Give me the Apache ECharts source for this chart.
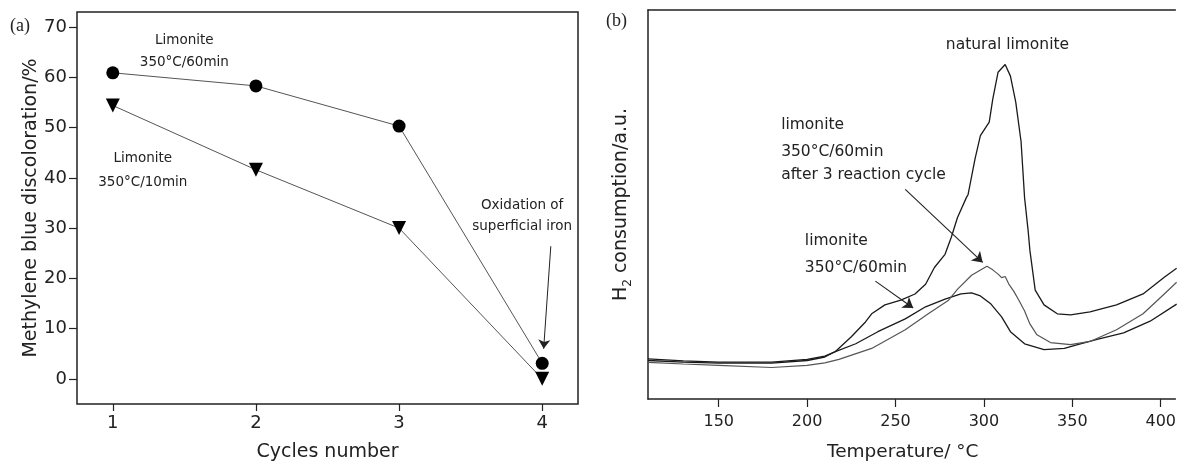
<!DOCTYPE html>
<html>
<head>
<meta charset="utf-8">
<script src="https://cdn.jsdelivr.net/npm/echarts@6.0.0/dist/echarts.min.js"></script>
<style>
  html, body { margin: 0; padding: 0; background: #fff; }
  #chart { width: 1179px; height: 467px; }
</style>
</head>
<body>
<div id="chart"></div>
<script>
// (a) discoloration vs cycles
var cycles = [1, 2, 3, 4];
var limonite60 = [60.9, 58.3, 50.3, 3.1];
var limonite10 = [54.4, 41.6, 30.0, 0.0];
var cycleTicks = [1, 2, 3, 4];
var discoTicks = [0, 10, 20, 30, 40, 50, 60, 70];

// (b) TPR curves (temperature in C, H2 consumption in a.u.)
var tempTicks = [150, 200, 250, 300, 350, 400];

var tNatural = [110, 130, 150, 180, 200, 210, 216, 225, 233, 236.5, 244, 253, 261, 267, 272, 278, 281.5, 285, 290, 291, 295, 298, 303, 305, 308, 312, 315, 318, 321, 323, 325, 326, 329, 334, 341.5, 349, 360, 375, 390, 402, 409];
var hNatural = [10.3, 9.8, 9.5, 9.5, 10.2, 11.0, 12.2, 16.0, 19.8, 21.9, 24.2, 25.4, 27.0, 29.5, 33.8, 37.2, 41.5, 46.6, 51.7, 52.5, 61.8, 67.7, 71.2, 77.1, 84.0, 86.0, 83.0, 76.3, 66.2, 51.7, 43.3, 38.2, 28.0, 24.2, 21.9, 21.6, 22.4, 24.2, 27.0, 31.3, 33.6];

var tCalc60 = [110, 130, 150, 180, 200, 210, 216, 227.5, 240, 255.5, 267, 278, 287, 293, 298, 304, 310, 315, 323, 334, 345.5, 353, 364, 379, 394, 409];
var hCalc60 = [9.9, 9.5, 9.2, 9.2, 9.9, 10.8, 12.2, 14.2, 17.3, 20.6, 23.7, 25.7, 27.0, 27.3, 26.5, 24.4, 21.1, 17.3, 14.2, 12.7, 13.0, 14.0, 15.3, 17.0, 20.0, 24.4];

var tCycled = [110, 130, 150, 180, 200, 210, 218, 236.5, 255.5, 268.5, 280, 285, 293, 301.7, 305, 308, 310, 312, 314, 315, 317, 318, 320, 321, 323, 326, 330, 337.6, 349, 360, 375, 390, 402, 409];
var hCycled = [9.4, 9.0, 8.65, 8.1, 8.65, 9.3, 10.2, 13.0, 17.8, 21.9, 25.4, 28.2, 31.8, 34.1, 33.2, 32.1, 31.2, 31.5, 29.6, 29.9, 27.6, 27.9, 25.2, 25.5, 22.6, 19.3, 16.5, 14.5, 14.0, 14.8, 17.8, 21.9, 27.0, 30.0];

// annotation texts: [gridIndex, x, y, text, align, fontSize]
var notes = [
  [0, 1.50, 67.4, 'Limonite', 'center', 13.5],
  [0, 1.50, 63.0, '350°C/60min', 'center', 13.5],
  [0, 1.21, 43.9, 'Limonite', 'center', 13.5],
  [0, 1.21, 39.1, '350°C/10min', 'center', 13.5],
  [0, 3.86, 34.4, 'Oxidation of', 'center', 13.5],
  [0, 3.86, 30.4, 'superficial iron', 'center', 13.5],
  [1, 313.3, 91.1, 'natural limonite', 'center', 15.5],
  [1, 185.3, 70.5, 'limonite', 'left', 15.5],
  [1, 185.3, 63.6, '350°C/60min', 'left', 15.5],
  [1, 185.3, 57.5, 'after 3 reaction cycle', 'left', 15.5],
  [1, 198.7, 40.7, 'limonite', 'left', 15.5],
  [1, 198.7, 33.6, '350°C/60min', 'left', 15.5]
];
// arrows: [from, to]
var arrowsA = [[[4.06, 26.4], [4.01, 6.0]]];
var arrowsB = [[[255.5, 53.9], [299.3, 35.1]], [[238.6, 30.3], [260.0, 23.4]]];

function zip(xs, ys) {
  return xs.map(function (x, i) { return [x, ys[i]]; });
}

function arrowLines(list) {
  return list.map(function (a) {
    return [{ coord: a[0] }, { coord: a[1] }];
  });
}

var FONT = 'DejaVu Sans';
var ink = '#222';
var frame = { show: true, onZero: false, lineStyle: { color: ink, width: 1.5 } };

var chartDom = document.getElementById('chart');
var chart = echarts.init(chartDom);

var option = {
  animation: false,
  backgroundColor: '#fff',
  grid: [
    { left: 77, top: 12, right: 601, bottom: 61.5, show: true, borderColor: ink, borderWidth: 1.5, backgroundColor: 'transparent' },
    // right edge of panel (b) runs off the picture, so only left/top/bottom lines
    { left: 648, top: 10, right: 0, bottom: 64, show: false }
  ],
  xAxis: [
    {
      gridIndex: 0, type: 'value', min: 0.75, max: 4.25,
      name: 'Cycles number', nameLocation: 'middle', nameGap: 39,
      nameTextStyle: { fontFamily: FONT, fontSize: 19, color: ink },
      axisLine: { show: false, onZero: false },
      axisTick: { show: true, inside: false, length: 7, customValues: cycleTicks, lineStyle: { color: ink, width: 1.2 } },
      axisLabel: { customValues: cycleTicks, margin: 10, fontFamily: FONT, fontSize: 18, color: ink },
      splitLine: { show: false }
    },
    {
      gridIndex: 1, type: 'value', min: 110, max: 408.3,
      name: 'Temperature/ °C', nameLocation: 'middle', nameGap: 44,
      nameTextStyle: { fontFamily: FONT, fontSize: 18.5, color: ink, padding: [0, 18, 0, 0] },
      axisLine: frame,
      axisTick: { show: true, inside: false, length: 8, customValues: tempTicks, lineStyle: { color: ink, width: 1.2 } },
      axisLabel: { customValues: tempTicks, margin: 15, fontFamily: FONT, fontSize: 16, color: ink },
      splitLine: { show: false }
    },
    {
      // top frame line of panel (b)
      gridIndex: 1, type: 'value', position: 'top', min: 110, max: 408.3,
      axisLine: frame, axisTick: { show: false }, axisLabel: { show: false }, splitLine: { show: false }
    }
  ],
  yAxis: [
    {
      gridIndex: 0, type: 'value', min: -5, max: 73,
      name: 'Methylene blue discoloration/%', nameLocation: 'middle', nameGap: 32,
      nameTextStyle: { fontFamily: FONT, fontSize: 19, color: ink },
      axisLine: { show: false, onZero: false },
      axisTick: { show: true, inside: false, length: 8, customValues: discoTicks, lineStyle: { color: ink, width: 1.2 } },
      axisLabel: { customValues: discoTicks, margin: 10, fontFamily: FONT, fontSize: 18, color: ink },
      splitLine: { show: false }
    },
    {
      gridIndex: 1, type: 'value', min: 0, max: 100,
      name: '{n|H}{s|2}{n| consumption/a.u.}', nameLocation: 'middle', nameGap: 14,
      nameTextStyle: {
        fontFamily: FONT, fontSize: 19, color: ink,
        rich: {
          n: { fontFamily: FONT, fontSize: 19, color: ink, lineHeight: 26 },
          s: { fontFamily: FONT, fontSize: 12, color: ink, lineHeight: 12, verticalAlign: 'bottom' }
        }
      },
      axisLine: frame,
      axisTick: { show: false },
      axisLabel: { show: false },
      splitLine: { show: false }
    }
  ],
  series: [
    {
      name: 'Limonite 350°C/60min', type: 'line', xAxisIndex: 0, yAxisIndex: 0,
      data: zip(cycles, limonite60),
      symbol: 'circle', symbolSize: 13,
      itemStyle: { color: '#000' },
      lineStyle: { color: '#555', width: 1 },
      markLine: {
        silent: true, symbol: ['none', 'arrow'], symbolSize: 9,
        label: { show: false },
        lineStyle: { color: ink, width: 1, type: 'solid' },
        data: arrowLines(arrowsA)
      }
    },
    {
      name: 'Limonite 350°C/10min', type: 'line', xAxisIndex: 0, yAxisIndex: 0,
      data: zip(cycles, limonite10),
      symbol: 'triangle', symbolRotate: 180, symbolSize: 14,
      itemStyle: { color: '#000' },
      lineStyle: { color: '#555', width: 1 }
    },
    {
      name: 'natural limonite', type: 'line', xAxisIndex: 1, yAxisIndex: 1,
      data: zip(tNatural, hNatural), showSymbol: false, symbol: 'none',
      lineStyle: { color: '#1a1a1a', width: 1.3 },
      markLine: {
        silent: true, symbol: ['none', 'arrow'], symbolSize: 10,
        label: { show: false },
        lineStyle: { color: ink, width: 1.1, type: 'solid' },
        data: arrowLines(arrowsB)
      }
    },
    {
      name: 'limonite 350°C/60min', type: 'line', xAxisIndex: 1, yAxisIndex: 1,
      data: zip(tCalc60, hCalc60), showSymbol: false, symbol: 'none',
      lineStyle: { color: '#1a1a1a', width: 1.3 }
    },
    {
      name: 'after 3 reaction cycle', type: 'line', xAxisIndex: 1, yAxisIndex: 1,
      data: zip(tCycled, hCycled), showSymbol: false, symbol: 'none',
      lineStyle: { color: '#555', width: 1.2 }
    }
  ]
};

chart.setOption(option);

// place annotation texts in data coordinates
var graphics = [
  { type: 'text', left: 10, top: 17, style: { text: '(a)', font: '18px "Liberation Serif"', fill: ink } },
  { type: 'text', left: 606, top: 12, style: { text: '(b)', font: '18px "Liberation Serif"', fill: ink } }
];
notes.forEach(function (n) {
  var p = chart.convertToPixel({ gridIndex: n[0] }, [n[1], n[2]]);
  graphics.push({
    type: 'text', x: p[0], y: p[1], silent: true,
    style: {
      text: n[3], fill: ink,
      font: n[5] + 'px "' + FONT + '"',
      align: n[4], verticalAlign: 'middle',
      textAlign: n[4], textVerticalAlign: 'middle'
    }
  });
});
chart.setOption({ graphic: graphics });
</script>
</body>
</html>
